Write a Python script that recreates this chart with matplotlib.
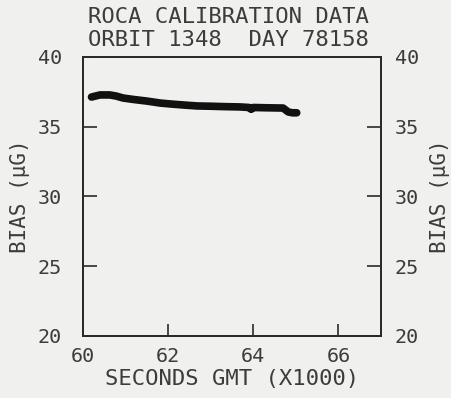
import numpy as np
import matplotlib.pyplot as plt

# ROCA calibration, orbit 1348 day 78158
secs = [60.20, 60.40, 60.63, 60.78, 60.94, 61.20, 61.50, 61.81, 62.10, 62.40,
        62.68, 63.00, 63.35, 63.69, 63.90, 63.95, 64.00, 64.30, 64.70, 64.82,
        64.92, 65.02]
bias = [37.13, 37.28, 37.28, 37.20, 37.06, 36.95, 36.84, 36.70, 36.62, 36.55,
        36.49, 36.47, 36.44, 36.42, 36.38, 36.25, 36.38, 36.36, 36.34, 36.06,
        36.00, 36.00]

ink = '#2a2a2a'
txt = '#3c3c3c'
paper = '#f0f0ee'

plt.rcParams['font.family'] = 'DejaVu Sans Mono'
fig = plt.figure(figsize=(4.52, 3.98), dpi=100, facecolor=paper)
ax = fig.add_axes([0.1836, 0.1558, 0.6594, 0.701])
ax.set_facecolor(paper)

ax.plot(secs, bias, color='#111111', lw=5.5, solid_capstyle='round', solid_joinstyle='round')

ax.set_xlim(60, 67)
ax.set_ylim(20, 40)
ax.set_xticks([60, 62, 64, 66])
ax.set_yticks([20, 25, 30, 35, 40])
ax.tick_params(axis='x', direction='in', length=9, width=1.2, color=ink, labelcolor=txt, labelsize=14.5, pad=8)
ax.tick_params(axis='y', direction='in', length=10, width=1.2, color=ink, labelcolor=txt, labelsize=14.5, pad=15)
for s in ax.spines.values():
    s.set_color(ink)
    s.set_linewidth(1.3)

ax2 = ax.twinx()
ax2.set_ylim(20, 40)
ax2.set_yticks([20, 25, 30, 35, 40])
ax2.tick_params(axis='y', direction='in', length=10, width=1.2, color=ink, labelcolor=txt, labelsize=14.5, pad=10)
for s in ax2.spines.values():
    s.set_color(ink)
    s.set_linewidth(1.3)

ax.set_xlabel('SECONDS GMT (X1000)', fontsize=16, color=txt, labelpad=2)
ax.set_ylabel('BIAS (\u03bcG)', fontsize=15, color=txt, labelpad=6)
ax2.set_ylabel('BIAS (\u03bcG)', fontsize=15, color=txt, labelpad=8)

fig.text(0.505, 0.958, 'ROCA CALIBRATION DATA', ha='center', va='center', fontsize=16, color=txt)
fig.text(0.505, 0.9, 'ORBIT 1348  DAY 78158', ha='center', va='center', fontsize=16, color=txt)

fig.savefig('out.png', dpi=100, facecolor=paper)
